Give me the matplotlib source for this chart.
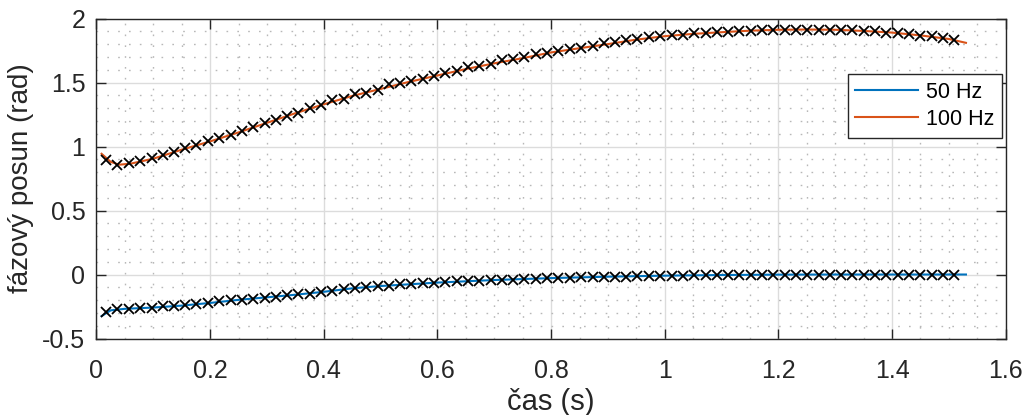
import numpy as np
import matplotlib
matplotlib.use("Agg")
import matplotlib.pyplot as plt
from matplotlib.ticker import MultipleLocator

# sample instants of the measured phase points (s)
t_meas = [0.017, 0.037, 0.057, 0.077, 0.097, 0.117, 0.136, 0.156, 0.176, 0.196,
          0.216, 0.236, 0.256, 0.276, 0.296, 0.316, 0.335, 0.355, 0.375, 0.395,
          0.415, 0.435, 0.455, 0.475, 0.495, 0.515, 0.534, 0.554, 0.574, 0.594,
          0.614, 0.634, 0.654, 0.674, 0.694, 0.714, 0.733, 0.753, 0.773, 0.793,
          0.813, 0.833, 0.853, 0.873, 0.893, 0.913, 0.932, 0.952, 0.972, 0.992,
          1.012, 1.032, 1.052, 1.072, 1.092, 1.111, 1.131, 1.151, 1.171, 1.191,
          1.211, 1.231, 1.251, 1.271, 1.291, 1.311, 1.330, 1.350, 1.370, 1.390,
          1.410, 1.430, 1.450, 1.470, 1.490, 1.509]

# measured phase shift at 50 Hz (rad)
phi50_meas = [-0.293, -0.267, -0.267, -0.262, -0.262, -0.249, -0.249, -0.241, -0.233, -0.223,
              -0.210, -0.202, -0.197, -0.189, -0.181, -0.176, -0.163, -0.156, -0.150, -0.137,
              -0.127, -0.111, -0.106, -0.098, -0.093, -0.086, -0.078, -0.073, -0.067, -0.065,
              -0.060, -0.052, -0.052, -0.047, -0.041, -0.041, -0.039, -0.034, -0.034, -0.026,
              -0.026, -0.026, -0.021, -0.021, -0.016, -0.016, -0.016, -0.013, -0.013, -0.008,
              -0.008, -0.008, -0.006, -0.006, -0.005, -0.004, -0.003, -0.003, -0.002, -0.002,
              -0.002, -0.001, -0.001, -0.001, 0.000, 0.000, 0.000, 0.000, 0.000, 0.000,
              0.000, 0.000, 0.000, 0.000, 0.000, 0.000]

# measured phase shift at 100 Hz (rad)
phi100_meas = [0.896, 0.857, 0.870, 0.890, 0.910, 0.935, 0.960, 0.987, 1.013, 1.040,
               1.066, 1.090, 1.125, 1.150, 1.180, 1.210, 1.235, 1.265, 1.300, 1.326,
               1.360, 1.370, 1.410, 1.417, 1.443, 1.490, 1.495, 1.515, 1.530, 1.550,
               1.578, 1.590, 1.620, 1.630, 1.646, 1.672, 1.680, 1.700, 1.720, 1.732,
               1.745, 1.758, 1.771, 1.784, 1.805, 1.815, 1.830, 1.841, 1.857, 1.862,
               1.875, 1.875, 1.883, 1.888, 1.893, 1.896, 1.900, 1.906, 1.910, 1.910,
               1.914, 1.914, 1.914, 1.914, 1.914, 1.910, 1.910, 1.900, 1.900, 1.888,
               1.888, 1.880, 1.867, 1.862, 1.850, 1.830]

# model curves
t50_fit = [0.009, 0.025, 0.05, 0.1, 0.15, 0.2, 0.25, 0.3, 0.35, 0.4, 0.45, 0.5,
           0.6, 0.7, 0.8, 0.9, 1.0, 1.1, 1.2, 1.3, 1.4, 1.53]
phi50_fit = [-0.325, -0.280, -0.268, -0.258, -0.243, -0.222, -0.198, -0.178, -0.158,
             -0.135, -0.108, -0.090, -0.063, -0.043, -0.028, -0.017, -0.009, -0.004,
             -0.001, 0.0, 0.0, 0.0]

t100_fit = [0.009, 0.025, 0.04, 0.06, 0.1, 0.15, 0.2, 0.25, 0.3, 0.35, 0.4, 0.45,
            0.5, 0.55, 0.6, 0.65, 0.7, 0.75, 0.8, 0.85, 0.9, 0.95, 1.0, 1.05, 1.1,
            1.15, 1.2, 1.25, 1.3, 1.35, 1.4, 1.45, 1.5, 1.53]
phi100_fit = [0.943, 0.880, 0.858, 0.866, 0.905, 0.975, 1.040, 1.110, 1.185, 1.260,
              1.330, 1.395, 1.450, 1.505, 1.555, 1.605, 1.650, 1.690, 1.735, 1.768,
              1.800, 1.835, 1.862, 1.880, 1.893, 1.905, 1.912, 1.914, 1.912, 1.903,
              1.890, 1.868, 1.840, 1.810]

xticks = [0, 0.2, 0.4, 0.6, 0.8, 1.0, 1.2, 1.4, 1.6]
xtick_labels = ['0', '0.2', '0.4', '0.6', '0.8', '1', '1.2', '1.4', '1.6']
yticks = [-0.5, 0, 0.5, 1.0, 1.5, 2.0]
ytick_labels = ['-0.5', '0', '0.5', '1', '1.5', '2']

plt.rcParams['font.family'] = ['Liberation Sans', 'DejaVu Sans']
plt.rcParams['lines.scale_dashes'] = False
axcol = '#262626'

fig = plt.figure(figsize=(10.25, 4.15), dpi=100)
ax = fig.add_axes([0.0941, 0.1843, 0.8871, 0.7711])

ax.plot(t50_fit, phi50_fit, color='#0072BD', lw=1.5, label='50 Hz')
ax.plot(t100_fit, phi100_fit, color='#D95319', lw=1.5, label='100 Hz')
ax.plot(t_meas, phi50_meas, 'x', color='black', ms=7.5, mew=1.3)
ax.plot(t_meas, phi100_meas, 'x', color='black', ms=7.5, mew=1.3)

ax.set_xlim(0, 1.6)
ax.set_ylim(-0.5, 2)
ax.set_xticks(xticks, xtick_labels)
ax.set_yticks(yticks, ytick_labels)
ax.xaxis.set_minor_locator(MultipleLocator(0.05))
ax.yaxis.set_minor_locator(MultipleLocator(0.1))

ax.grid(True, which='major', color='#dcdcdc', lw=1.0, ls='-')
ax.grid(True, which='minor', color='#b8b8b8', lw=1.0, ls=(0, (1.2, 6.6)))
ax.set_axisbelow(True)

ax.tick_params(which='major', direction='in', length=7, width=1, color=axcol,
               top=True, right=True, labelsize=18, labelcolor=axcol)
ax.tick_params(axis='x', pad=15)
ax.tick_params(axis='y', pad=8)
ax.tick_params(which='minor', length=0)
for s in ax.spines.values():
    s.set_color(axcol)
    s.set_linewidth(1.0)

ax.set_xlabel('čas (s)', fontsize=21, color=axcol, labelpad=3)
ax.set_ylabel('fázový posun (rad)', fontsize=20, color=axcol, labelpad=6)

leg = ax.legend(loc='upper right', bbox_to_anchor=(0.996, 0.8266), borderaxespad=0,
                fontsize=15.5, fancybox=False, framealpha=1, edgecolor=axcol,
                handlelength=2.9, handletextpad=0.4, borderpad=0.35, labelspacing=0.3)
leg.get_frame().set_linewidth(1.0)

fig.savefig('out.png', dpi=100)
